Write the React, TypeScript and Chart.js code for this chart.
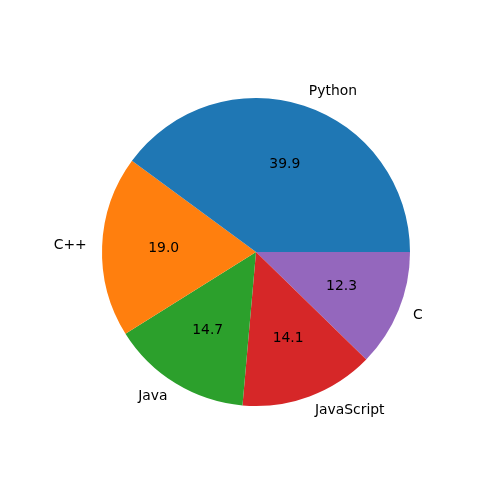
import React, { useEffect, useRef } from "react";
import { Chart, registerables } from "chart.js";

Chart.register(...registerables);

// Data (matplotlib order: counterclockwise from east)
const categories = ["Python", "C++", "Java", "JavaScript", "C"];
const values = [39.9, 19.0, 14.7, 14.1, 12.3];
const colors = ["#1f77b4", "#ff7f0e", "#2ca02c", "#d62728", "#9467bd"];

const FONT = '13.9px "DejaVu Sans"';

const pieLabels = {
  id: "pieLabels",
  afterDraw(chart: any) {
    const ctx = chart.ctx;
    const meta = chart.getDatasetMeta(0);
    const data = chart.data.datasets[0].data as number[];
    const labels = chart.data.labels as string[];
    const total = data.reduce((a, b) => a + b, 0);
    ctx.save();
    ctx.font = FONT;
    ctx.fillStyle = "#000";
    ctx.textBaseline = "middle";
    meta.data.forEach((arc: any, i: number) => {
      const mid = (arc.startAngle + arc.endAngle) / 2;
      const r = arc.outerRadius;
      const c = Math.cos(mid);
      const s = Math.sin(mid);
      // outer label
      const lx = arc.x + 1.1 * r * c;
      const ly = arc.y + 1.1 * r * s;
      ctx.textAlign = c > 0 ? "left" : "right";
      ctx.fillText(labels[i], lx, ly);
      // percent label
      const px = arc.x + 0.6 * r * c;
      const py = arc.y + 0.6 * r * s;
      ctx.textAlign = "center";
      ctx.fillText(((data[i] / total) * 100).toFixed(1), px, py);
    });
    ctx.restore();
  },
};

export default function App() {
  const ref = useRef<HTMLCanvasElement>(null);
  useEffect(() => {
    document.body.style.margin = "0";
    const revLabels = [...categories].reverse();
    const revValues = [...values].reverse();
    const revColors = [...colors].reverse();
    const chart = new Chart(ref.current!, {
      type: "pie",
      data: {
        labels: revLabels,
        datasets: [
          {
            data: revValues,
            backgroundColor: revColors,
            borderWidth: 0,
          },
        ],
      },
      options: {
        responsive: false,
        animation: false,
        rotation: 90,
        layout: { padding: { left: 102, right: 90, top: 98, bottom: 94 } },
        plugins: {
          legend: { display: false },
          tooltip: { enabled: false },
        },
      },
      plugins: [pieLabels],
    });
    return () => chart.destroy();
  }, []);
  return (
    <div style={{ position: "fixed", left: 0, top: 0, width: 500, height: 500, background: "#fff" }}>
      <canvas ref={ref} width={500} height={500} />
    </div>
  );
}
